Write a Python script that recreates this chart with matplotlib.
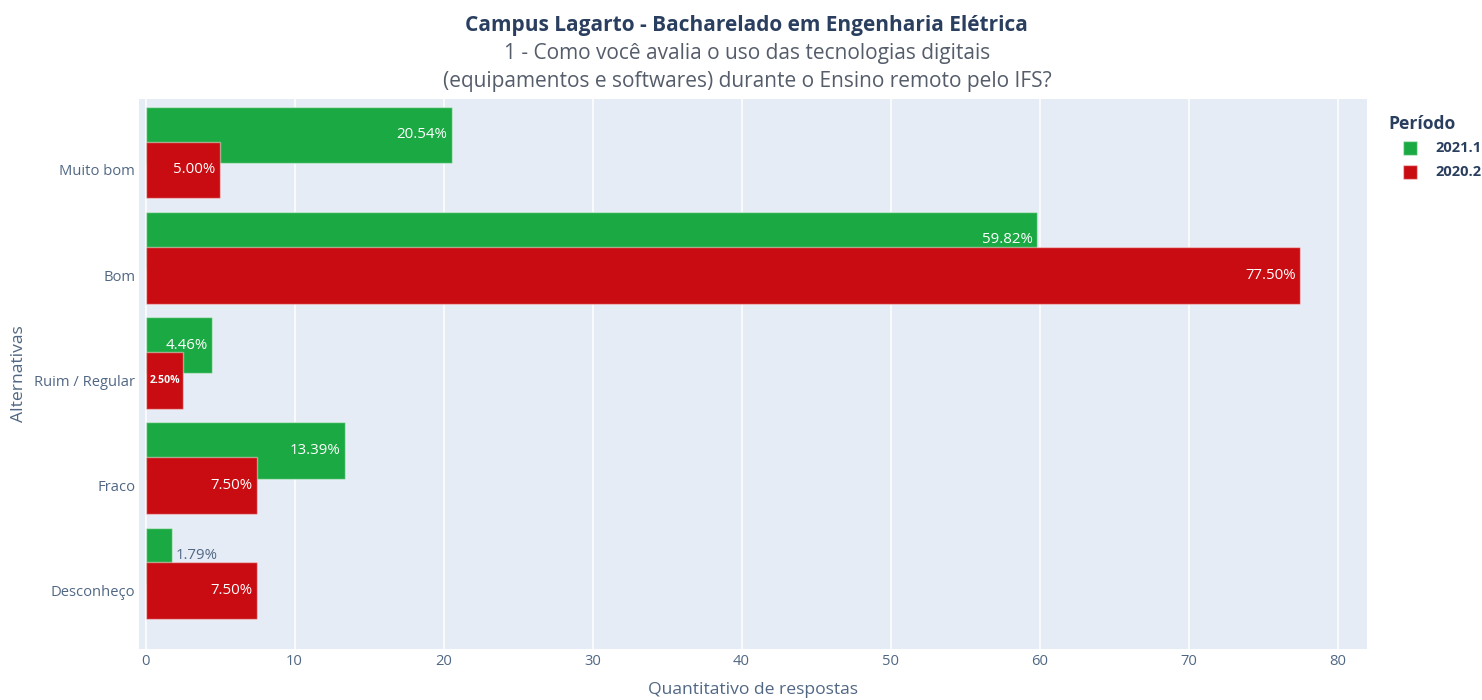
import matplotlib.pyplot as plt
from matplotlib.patches import Rectangle

plt.rcParams['font.family'] = ['Open Sans', 'DejaVu Sans']

# Dados
alternativas = ['Muito bom', 'Bom', 'Ruim / Regular', 'Fraco', 'Desconheço']
periodo_2021_1 = [20.54, 59.82, 4.46, 13.39, 1.79]
periodo_2020_2 = [5.00, 77.50, 2.50, 7.50, 7.50]
ticks_x = [0, 10, 20, 30, 40, 50, 60, 70, 80]
periodos = ['2021.1', '2020.2']

cor_verde = '#1aa943'
cor_vermelho = '#c80c11'
cor_texto = '#2a3f5f'
cor_eixo = '#506784'

fig = plt.figure(figsize=(14.82, 7.0), dpi=100)
ax = fig.add_axes([0.094, 0.073, 0.8287, 0.7857])
ax.set_facecolor('#e5ecf6')
for s in ax.spines.values():
    s.set_visible(False)

n = len(alternativas)
pos = [n - 1 - i for i in range(n)]
borda = (1, 1, 1, 0.45)

# barras verdes (2021.1) deslocadas para cima, vermelhas por cima
ax.barh([p + 0.335 for p in pos], periodo_2021_1, height=0.535, color=cor_verde,
        edgecolor=borda, linewidth=1, zorder=2)
ax.barh(pos, periodo_2020_2, height=0.54, color=cor_vermelho,
        edgecolor=borda, linewidth=1, zorder=4)

for p, v in zip(pos, periodo_2021_1):
    if v > 3:
        ax.text(v - 0.3, p + 0.335, f'{v:.2f}%', ha='right', va='center',
                color='white', fontsize=10.8, zorder=3)
    else:
        ax.text(v + 0.2, p + 0.34, f'{v:.2f}%', ha='left', va='center',
                color=cor_eixo, fontsize=10.8, zorder=3)
for p, v in zip(pos, periodo_2020_2):
    if v > 3:
        ax.text(v - 0.3, p, f'{v:.2f}%', ha='right', va='center',
                color='white', fontsize=10.8, zorder=5)
    else:
        ax.text(v - 0.15, p, f'{v:.2f}%', ha='right', va='center',
                color='white', fontsize=7.6, fontweight='bold', zorder=5)

ax.set_xlim(-0.42, 82.0)
ax.set_ylim(-0.551, 4.675)
ax.set_xticks(ticks_x)
ax.set_yticks(pos)
ax.set_yticklabels(alternativas)
ax.tick_params(axis='both', length=0, labelsize=10.6, labelcolor=cor_eixo)
ax.tick_params(axis='x', pad=4)
ax.tick_params(axis='y', pad=3)
ax.grid(axis='x', color='white', linewidth=1.1, zorder=1)
ax.set_axisbelow(True)

ax.set_xlabel('Quantitativo de respostas', fontsize=12.6, color=cor_eixo, va='center')
ax.xaxis.set_label_coords(0.5, -0.075)
ax.set_ylabel('Alternativas', fontsize=12.6, color=cor_eixo, va='center')
ax.yaxis.set_label_coords(-0.0977, 0.5)

fig.text(0.504, 0.964, 'Campus Lagarto - Bacharelado em Engenharia Elétrica',
         ha='center', va='center', fontsize=15, fontweight='bold', color=cor_texto)
fig.text(0.504, 0.924, '1 - Como você avalia o uso das tecnologias digitais',
         ha='center', va='center', fontsize=15, color='#555d6b')
fig.text(0.504, 0.884, '(equipamentos e softwares) durante o Ensino remoto pelo IFS?',
         ha='center', va='center', fontsize=15, color='#555d6b')

# legenda
W, H = 1482, 700
fig.text(1388 / W, 1 - 124 / H, 'Período', ha='left', va='center',
         fontsize=12.6, fontweight='bold', color=cor_texto)
for i, (nome, cor) in enumerate(zip(periodos, [cor_verde, cor_vermelho])):
    yc = 148 + i * 23.5
    fig.patches.append(Rectangle((1403 / W, 1 - (yc + 7) / H), 14 / W, 14 / H,
                                 transform=fig.transFigure, facecolor=cor,
                                 edgecolor=borda, linewidth=1))
    fig.text(1435 / W, 1 - yc / H, nome, ha='left', va='center',
             fontsize=10.5, fontweight='bold', color=cor_texto)

plt.savefig('out.png', dpi=100)
